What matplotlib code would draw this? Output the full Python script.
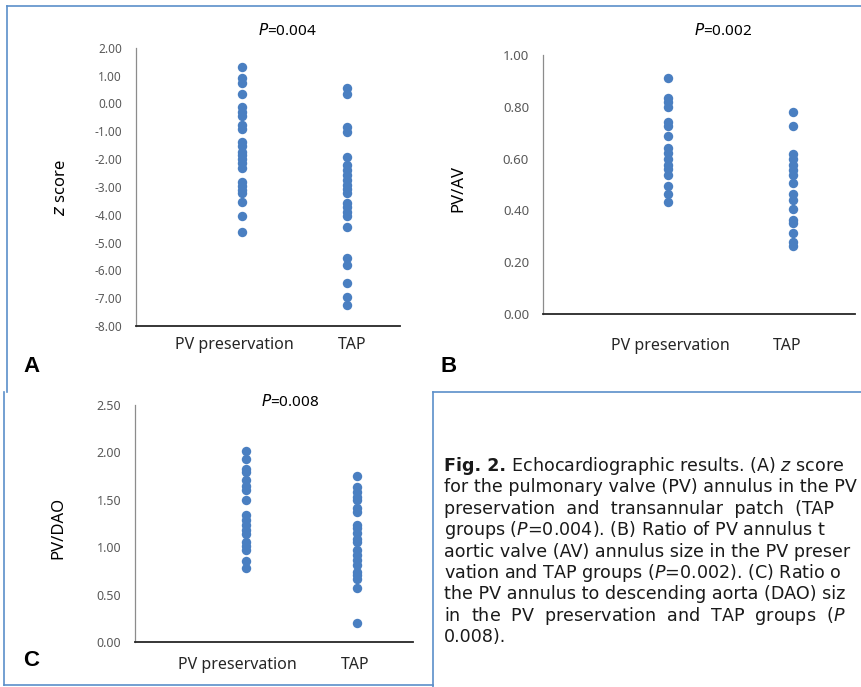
import numpy as np
import matplotlib.pyplot as plt
from matplotlib.lines import Line2D

plt.rcParams['font.family'] = ['Noto Sans', 'DejaVu Sans']
plt.rcParams['mathtext.fontset'] = 'custom'
plt.rcParams['mathtext.rm'] = 'DejaVu Sans'
plt.rcParams['mathtext.it'] = 'DejaVu Sans:italic'
plt.rcParams['mathtext.bf'] = 'DejaVu Sans:bold'

# groups on the x axis (Excel scatter: x = 1 and x = 2)
groups = ["PV preservation", "TAP"]
group_x = [1, 2]

# (A) z score of the PV annulus
z_pv = [1.32, 0.90, 0.74, 0.33, -0.14, -0.30, -0.45, -0.78, -0.93, -1.38, -1.52,
        -1.74, -1.86, -2.01, -2.15, -2.33, -2.81, -2.97, -3.11, -3.23, -3.53,
        -4.05, -4.63]
z_tap = [0.56, 0.33, -0.84, -1.02, -1.92, -2.21, -2.39, -2.57, -2.75, -2.93,
         -3.09, -3.23, -3.59, -3.74, -3.89, -4.05, -4.43, -5.55, -5.81, -6.44,
         -6.95, -7.25]

# (B) PV/AV ratio
av_pv = [0.91, 0.833, 0.82, 0.80, 0.743, 0.724, 0.688, 0.641, 0.622, 0.599,
         0.577, 0.558, 0.538, 0.494, 0.462, 0.432]
av_tap = [0.778, 0.727, 0.619, 0.599, 0.577, 0.555, 0.535, 0.504, 0.462, 0.442,
          0.407, 0.363, 0.35, 0.314, 0.278, 0.263]

# (C) PV/DAO ratio
dao_pv = [2.01, 1.93, 1.83, 1.79, 1.71, 1.65, 1.60, 1.50, 1.34, 1.29, 1.23,
          1.18, 1.14, 1.06, 1.01, 0.97, 0.85, 0.78]
dao_tap = [1.75, 1.64, 1.58, 1.53, 1.50, 1.41, 1.37, 1.23, 1.20, 1.15, 1.09,
           1.05, 0.97, 0.92, 0.87, 0.81, 0.74, 0.71, 0.66, 0.57, 0.20]

yticks_a = [2, 1, 0, -1, -2, -3, -4, -5, -6, -7, -8]
yticks_b = [0, 0.2, 0.4, 0.6, 0.8, 1.0]
yticks_c = [0, 0.5, 1.0, 1.5, 2.0, 2.5]

# caption lines as far as they are visible in the cropped figure
caption = [
    [("Fig. 2.", 'bold'), (" Echocardiographic results. (A) $z$ score", None)],
    [("for the pulmonary valve (PV) annulus in the PV", None)],
    [("preservation  and  transannular  patch  (TAP", None)],
    [("groups ($P$=0.004). (B) Ratio of PV annulus t", None)],
    [("aortic valve (AV) annulus size in the PV preser", None)],
    [("vation and TAP groups ($P$=0.002). (C) Ratio o", None)],
    [("the PV annulus to descending aorta (DAO) siz", None)],
    [("in  the  PV  preservation  and  TAP  groups  ($P$", None)],
    [("0.008).", None)],
]

W, H = 861, 687
fig = plt.figure(figsize=(W / 100, H / 100), dpi=100)
dot = '#4a7fc1'
blue = '#5b8fc9'


def box(x0, y0, x1, y1):
    return [x0 / W, 1 - y1 / H, (x1 - x0) / W, (y1 - y0) / H]


def panel(rect, pv, tap, yticks, tick_fs, label_x, label_pad):
    ax = fig.add_axes(rect)
    ax.scatter([group_x[0]] * len(pv), pv, s=46, color=dot, zorder=3, linewidths=0)
    ax.scatter([group_x[1]] * len(tap), tap, s=46, color=dot, zorder=3, linewidths=0)
    ax.set_xlim(0, 2.5)
    ax.set_ylim(min(yticks), max(yticks))
    ax.set_yticks(yticks)
    ax.set_yticklabels(['%.2f' % v for v in yticks], fontsize=tick_fs, color='#595959')
    ax.set_xticks(label_x)
    ax.set_xticklabels(groups, fontsize=11.5, color='#262626')
    ax.tick_params(axis='both', length=0)
    ax.tick_params(axis='y', pad=10)
    ax.tick_params(axis='x', pad=label_pad)
    for s in ['top', 'right']:
        ax.spines[s].set_visible(False)
    ax.spines['left'].set_color('#8c8c8c')
    ax.spines['left'].set_linewidth(0.9)
    ax.spines['bottom'].set_color('#262626')
    ax.spines['bottom'].set_linewidth(1.3)
    ax.patch.set_alpha(0)
    return ax


axA = panel(box(136, 47.7, 400, 326), z_pv, z_tap, yticks_a, 8.5, [0.93, 2.045], 8)
axB = panel(box(543, 55, 855, 314), av_pv, av_tap, yticks_b, 9.5, [1.02, 1.96], 17)
axC = panel(box(135, 405, 413, 642), dao_pv, dao_tap, yticks_c, 9, [0.92, 1.98], 11)

# axis titles and P values as figure text
fig.text(61 / W, 1 - 188 / H, r"$z$ score", rotation=90, ha='center', va='center', fontsize=12)
fig.text(458 / W, 1 - 188 / H, "PV/AV", rotation=90, ha='center', va='center', fontsize=12)
fig.text(58 / W, 1 - 528 / H, "PV/DAO", rotation=90, ha='center', va='center', fontsize=12)

fig.text(287 / W, 1 - 31 / H, r"$P$=0.004", ha='center', va='center', fontsize=11)
fig.text(723 / W, 1 - 31 / H, r"$P$=0.002", ha='center', va='center', fontsize=11)
fig.text(290 / W, 1 - 402 / H, r"$P$=0.008", ha='center', va='center', fontsize=11)

# panel letters
for letter, (x, y) in zip("ABC", [(31, 366), (449, 366), (31, 660)]):
    fig.text(x / W, 1 - y / H, letter, ha='center', va='center', fontsize=16,
             fontweight='bold', family='Liberation Sans')

# caption, drawn piece by piece so "Fig. 2." can be bold
renderer = fig.canvas.get_renderer()
for i, pieces in enumerate(caption):
    x = 444
    y = 1 - (466 + i * 21.4) / H
    for txt, weight in pieces:
        t = fig.text(x / W, y, txt, ha='left', va='center', fontsize=12.6,
                     color='#1a1a1a', family='DejaVu Sans',
                     fontweight=weight or 'normal')
        x += t.get_window_extent(renderer).width

# frame lines
frame = [
    ((7, 861), (6, 6)),
    ((7, 7), (6, 392)),
    ((4, 4), (392, 685)),
    ((4, 433), (685, 685)),
    ((433, 433), (392, 687)),
    ((433, 861), (392, 392)),
]
for xs, ys in frame:
    fig.add_artist(Line2D([x / W for x in xs], [1 - y / H for y in ys],
                          color=blue, linewidth=1.2))

fig.savefig('out.png', dpi=100)
